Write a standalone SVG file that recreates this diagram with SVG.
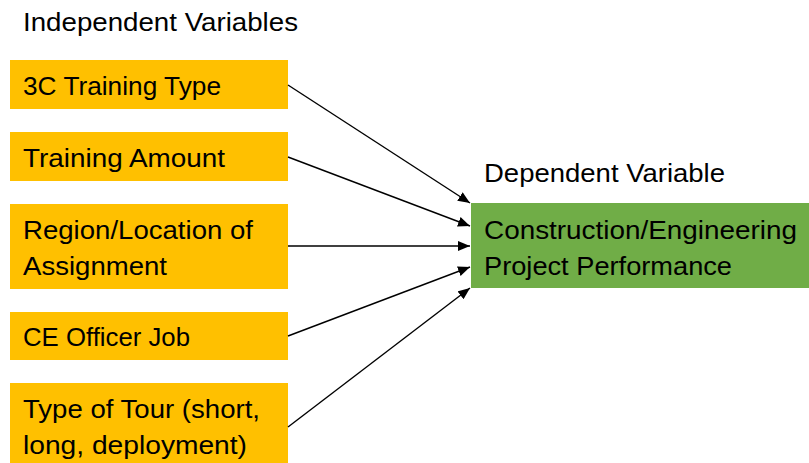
<svg xmlns="http://www.w3.org/2000/svg" width="809" height="463" viewBox="0 0 809 463">
<defs>
<marker id="ah" viewBox="0 0 12 10" refX="12" refY="5" markerWidth="12" markerHeight="10" markerUnits="userSpaceOnUse" orient="auto">
<path d="M0,0 L12,5 L0,10 z" fill="#000"/>
</marker>
<style>
text{font-family:"Liberation Sans",Arial,sans-serif;font-size:26px;fill:#000}
.iv{fill:#FFC000}
.dv{fill:#70AD47}
.c{stroke:#000;stroke-width:1.4;fill:none;marker-end:url(#ah)}
</style>
</defs>
<rect width="809" height="463" fill="#fff"/>
<text id="t-ind" x="23" y="31" textLength="275" lengthAdjust="spacingAndGlyphs">Independent Variables</text>
<text id="t-dep" x="484" y="182" textLength="241" lengthAdjust="spacingAndGlyphs">Dependent Variable</text>
<g id="n1"><rect class="iv" x="10" y="60" width="278" height="49"/><text x="23" y="95" textLength="198" lengthAdjust="spacingAndGlyphs">3C Training Type</text></g>
<g id="n2"><rect class="iv" x="10" y="132" width="278" height="49"/><text x="23" y="167" textLength="202" lengthAdjust="spacingAndGlyphs">Training Amount</text></g>
<g id="n3"><rect class="iv" x="10" y="204" width="278" height="85"/><text x="23" y="239" textLength="230" lengthAdjust="spacingAndGlyphs">Region/Location of</text><text x="23" y="275" textLength="144" lengthAdjust="spacingAndGlyphs">Assignment</text></g>
<g id="n4"><rect class="iv" x="10" y="312" width="278" height="48"/><text x="23" y="346" textLength="167" lengthAdjust="spacingAndGlyphs">CE Officer Job</text></g>
<g id="n5"><rect class="iv" x="10" y="383" width="278" height="80"/><text x="23" y="418" textLength="237" lengthAdjust="spacingAndGlyphs">Type of Tour (short,</text><text x="23" y="454" textLength="224" lengthAdjust="spacingAndGlyphs">long, deployment)</text></g>
<g id="n6"><rect class="dv" x="471" y="203" width="338" height="85"/><text x="484" y="239" textLength="313" lengthAdjust="spacingAndGlyphs">Construction/Engineering</text><text x="484" y="275" textLength="248" lengthAdjust="spacingAndGlyphs">Project Performance</text></g>
<g id="connectors">
<line class="c" x1="288" y1="85" x2="470" y2="203"/>
<line class="c" x1="288" y1="157" x2="470" y2="226"/>
<line class="c" x1="288" y1="246" x2="470" y2="246"/>
<line class="c" x1="288" y1="336" x2="470" y2="267"/>
<line class="c" x1="288" y1="427" x2="470" y2="288"/>
</g>
</svg>
